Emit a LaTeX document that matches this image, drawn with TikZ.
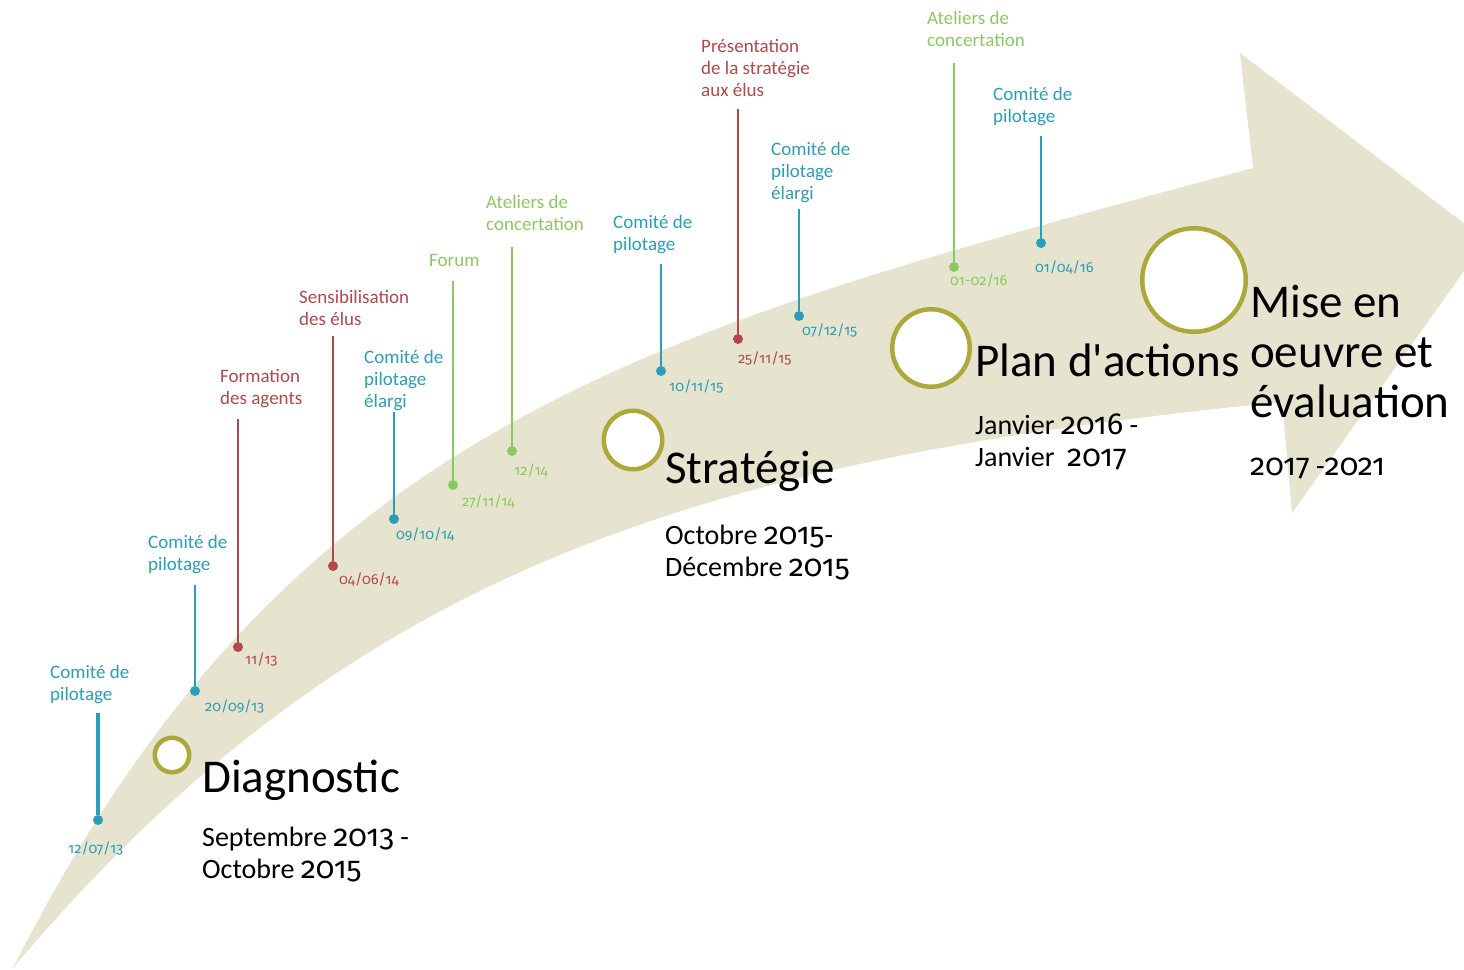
\documentclass[tikz,border=0pt]{standalone}
\usepackage{fontspec}
\setmainfont{Carlito}
\newfontfamily\osf{Fira Sans}[Numbers=OldStyle]
\newfontfamily\nomapf{Carlito}[Ligatures=ResetAll]
\definecolor{band}{HTML}{E6E4CE}
\definecolor{ring}{HTML}{ADA83A}
\definecolor{cblue}{HTML}{2A9DB8}
\definecolor{cred}{HTML}{B2484C}
\definecolor{cgreen}{HTML}{8CC860}
\newcommand{\ml}[1]{\begin{tabular}[t]{@{}l@{}}#1\end{tabular}}
\newcommand{\yr}[1]{{\osf\fontsize{30.5}{32.5}\selectfont #1}}
\tikzset{
  lab/.style={anchor=base west, inner sep=0pt, font=\fontsize{19}{22.3}\selectfont},
  dat/.style={anchor=base west, inner sep=0pt, font=\fontsize{14.5}{17}\selectfont\osf},
  ttl/.style={anchor=base west, inner sep=0pt, font=\fontsize{47}{50}\selectfont, text=black},
  sub/.style={anchor=base west, inner sep=0pt, font=\fontsize{28}{32.5}\selectfont, text=black},
  dotm/.style={circle, fill=#1, inner sep=0pt, minimum size=10pt},
  stem/.style={draw=#1, line width=2.5pt},
  milestone/.style={circle, draw=ring, fill=white, line width=4.5pt, inner sep=0pt, minimum size=#1},
}
\begin{document}
\begin{tikzpicture}[x=1pt,y=-1pt]
\useasboundingbox (0,0) rectangle (1464,969);
\clip (0,0) rectangle (1464,969);
% arrow band
\fill[band] (13,968) .. controls (290,420) and (650,330) .. (1253,168)
  -- (1240,53) -- (1486,240) -- (1292,513) -- (1282,402)
  .. controls (700,460) and (350,568) .. (13,968) -- cycle;

% milestones
\node[milestone=39pt-4.5pt] (m1) at (172,755) {};
\node[milestone=63pt-4.5pt] (m2) at (633,440) {};
\node[milestone=82pt-4.5pt] (m3) at (931,348) {};
\node[milestone=108pt-4.5pt] (m4) at (1194,280) {};

\node[ttl] (t1) at (202,792) {Diagnostic};
\node[sub] (s1) at (202,846) {\ml{Septembre \yr{2013} -\\Octobre \yr{2015}}};
\node[ttl] (t2) at (665,483) {Stratégie};
\node[sub] (s2) at (665,544) {\ml{Octobre \yr{2015}-\\Décembre \yr{2015}}};
\node[ttl] (t3) at (975,376) {Plan d{\nomapf\char"27}actions};
\node[sub] (s3) at (975,434) {\ml{Janvier \yr{2016} -\\Janvier~ \yr{2017}}};
\node[ttl] (t4) at (1250,317) {\ml{Mise en\\oeuvre et\\évaluation}};
\node[sub] (s4) at (1250,475) {\yr{2017} -\yr{2021}};

% events
\node[dotm=cblue] (d1) at (98,820) {};
\coordinate (c1) at (98,713);
\draw[stem=cblue, line width=3.2pt] (c1) -- (d1);
\node[lab, text=cblue] (l1) at (50,678) {\ml{Comité de\\pilotage}};
\node[dat, text=cblue] (a1) at (68,853) {12/07/13};

\node[dotm=cblue] (d2) at (195,691) {};
\coordinate (c2) at (195,585);
\draw[stem=cblue] (c2) -- (d2);
\node[lab, text=cblue] (l2) at (148,548) {\ml{Comité de\\pilotage}};
\node[dat, text=cblue] (a2) at (205,711) {20/09/13};

\node[dotm=cred] (d3) at (238,647) {};
\coordinate (c3) at (238,419);
\draw[stem=cred] (c3) -- (d3);
\node[lab, text=cred] (l3) at (220,382) {\ml{Formation\\des agents}};
\node[dat, text=cred] (a3) at (245,664) {11/13};

\node[dotm=cred] (d4) at (333,566) {};
\coordinate (c4) at (333,336);
\draw[stem=cred] (c4) -- (d4);
\node[lab, text=cred] (l4) at (299,303) {\ml{Sensibilisation\\des élus}};
\node[dat, text=cred] (a4) at (339,584) {04/06/14};

\node[dotm=cblue] (d5) at (394,519) {};
\coordinate (c5) at (394,412);
\draw[stem=cblue] (c5) -- (d5);
\node[lab, text=cblue] (l5) at (364,363) {\ml{Comité de\\pilotage\\élargi}};
\node[dat, text=cblue] (a5) at (396,539) {09/10/14};

\node[dotm=cgreen] (d6) at (453,485) {};
\coordinate (c6) at (453,281);
\draw[stem=cgreen] (c6) -- (d6);
\node[lab, text=cgreen] (l6) at (429,266) {Forum};
\node[dat, text=cgreen] (a6) at (462,506) {27/11/14};

\node[dotm=cgreen] (d7) at (512,451) {};
\coordinate (c7) at (512,247);
\draw[stem=cgreen] (c7) -- (d7);
\node[lab, text=cgreen] (l7) at (486,208) {\ml{Ateliers de\\concertation}};
\node[dat, text=cgreen] (a7) at (514,475) {12/14};

\node[dotm=cblue] (d8) at (661,371) {};
\coordinate (c8) at (661,264);
\draw[stem=cblue] (c8) -- (d8);
\node[lab, text=cblue] (l8) at (613,228) {\ml{Comité de\\pilotage}};
\node[dat, text=cblue] (a8) at (669,391) {10/11/15};

\node[dotm=cred] (d9) at (738,339) {};
\coordinate (c9) at (738,109);
\draw[stem=cred] (c9) -- (d9);
\node[lab, text=cred] (l9) at (701,52) {\ml{Présentation\\de la stratégie\\aux élus}};
\node[dat, text=cred] (a9) at (738,363) {25/11/15};

\node[dotm=cblue] (d10) at (799,316) {};
\coordinate (c10) at (799,209);
\draw[stem=cblue] (c10) -- (d10);
\node[lab, text=cblue] (l10) at (771,155) {\ml{Comité de\\pilotage\\élargi}};
\node[dat, text=cblue] (a10) at (802,335) {07/12/15};

\node[dotm=cgreen] (d11) at (954,267) {};
\coordinate (c11) at (954,63);
\draw[stem=cgreen] (c11) -- (d11);
\node[lab, text=cgreen] (l11) at (927,24) {\ml{Ateliers de\\concertation}};
\node[dat, text=cgreen] (a11) at (950,285) {01-02/16};

\node[dotm=cblue] (d12) at (1041,243) {};
\coordinate (c12) at (1041,136);
\draw[stem=cblue] (c12) -- (d12);
\node[lab, text=cblue] (l12) at (993,100) {\ml{Comité de\\pilotage}};
\node[dat, text=cblue] (a12) at (1035,272) {01/04/16};
\end{tikzpicture}
\end{document}
